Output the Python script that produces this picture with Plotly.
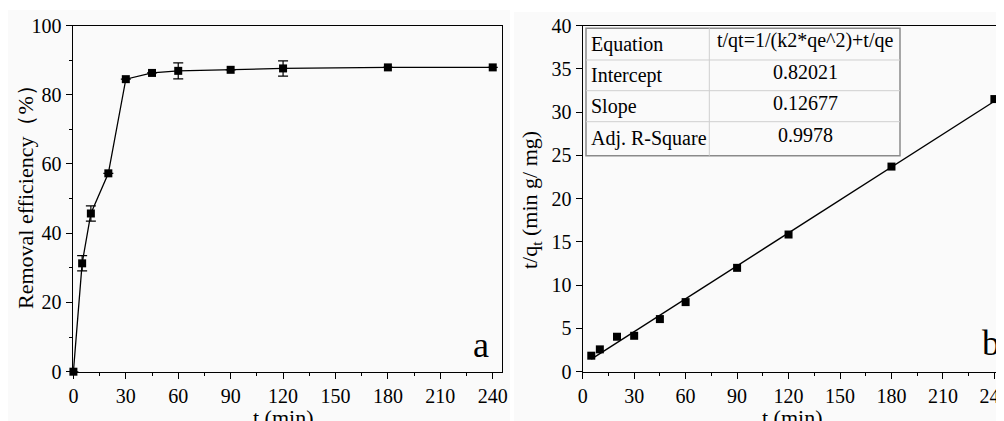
import plotly.graph_objects as go

# ---------------- data ----------------
t_removal = [0, 5, 10, 20, 30, 45, 60, 90, 120, 180, 240]
removal_eff = [0, 31.3, 45.7, 57.3, 84.5, 86.3, 86.9, 87.2, 87.6, 87.9, 87.9]
removal_err = [0, 2.2, 2.2, 0, 0, 0, 2.3, 0, 2.2, 0, 0]

t_kin = [5, 10, 20, 30, 45, 60, 90, 120, 180, 240]
t_over_qt = [1.85, 2.58, 4.04, 4.15, 6.08, 8.04, 12.0, 15.85, 23.7, 31.5]

fit_intercept = 0.82021
fit_slope = 0.12677
fit_t = [5, 240]
fit_y = [fit_intercept + fit_slope * t for t in fit_t]

table_labels = ["Equation", "Intercept", "Slope", "Adj. R-Square"]
table_values = ["t/qt=1/(k2*qe^2)+t/qe", "0.82021", "0.12677", "0.9978"]

x_ticks = [0, 30, 60, 90, 120, 150, 180, 210, 240]

# ---------------- figure ----------------
# The page body has an 8px margin, so the figure is offset by 8px;
# window is 1004x421 -> figure 996x413 fills the remaining area.
OFF = 8
W, H = 1004 - OFF, 421 - OFF
FONT = "Liberation Serif"


def px(x):
    return (x - OFF) / W


def py(y):
    return (H - (y - OFF)) / H


fig = go.Figure()

fig.add_trace(go.Scatter(
    x=t_removal, y=removal_eff,
    mode="lines+markers",
    line=dict(color="black", width=1.3),
    marker=dict(symbol="square", size=8, color="black"),
    error_y=dict(type="data", array=removal_err, visible=True,
                 color="black", thickness=1.2, width=5),
    cliponaxis=False, showlegend=False,
    xaxis="x", yaxis="y",
))

fig.add_trace(go.Scatter(
    x=fit_t, y=fit_y, mode="lines",
    line=dict(color="black", width=1.4),
    showlegend=False, xaxis="x2", yaxis="y2",
))

fig.add_trace(go.Scatter(
    x=t_kin, y=t_over_qt, mode="markers",
    marker=dict(symbol="square", size=8, color="black"),
    cliponaxis=False, showlegend=False, xaxis="x2", yaxis="y2",
))

ydom = [py(371.7), py(25.5)]

common_axis = dict(
    showgrid=False, zeroline=False, showline=True, linecolor="black",
    linewidth=1.2, ticks="outside", ticklen=6, tickwidth=1.2,
    tickcolor="black", tickfont=dict(family=FONT, size=20, color="black"),
    ticklabeloverflow="allow", automargin=False,
)

fig.update_layout(
    width=W, height=H,
    margin=dict(l=0, r=0, t=0, b=0, pad=0, autoexpand=False),
    paper_bgcolor="white",
    plot_bgcolor="rgba(0,0,0,0)",
    font=dict(family=FONT, color="black"),
    xaxis=dict(domain=[px(72.7), px(502)], range=[-0.4, 245.3],
               tickvals=x_ticks, mirror=True,
               minor=dict(dtick=15, ticklen=3, tickwidth=1, tickcolor="black", ticks="outside"),
               anchor="y", **common_axis),
    yaxis=dict(domain=ydom, range=[0, 100], dtick=20, mirror=True,
               minor=dict(dtick=10, ticklen=3, tickwidth=1, tickcolor="black", ticks="outside"),
               anchor="x", **common_axis),
    xaxis2=dict(domain=[px(582.7), 1.0], range=[0, 245.6],
                tickvals=x_ticks, mirror=True,
                minor=dict(dtick=15, ticklen=3, tickwidth=1, tickcolor="black", ticks="outside"),
                anchor="y2", **common_axis),
    yaxis2=dict(domain=ydom, range=[0, 40], dtick=5, mirror=False,
                anchor="x2", **common_axis),
)

# panel backgrounds (image-like light grey frames)
shapes = [
    dict(type="rect", xref="paper", yref="paper", x0=px(8), x1=px(510), y0=0, y1=py(10),
         fillcolor="#fafafa", line=dict(width=0), layer="below"),
    dict(type="rect", xref="paper", yref="paper", x0=px(514), x1=1, y0=0, y1=py(12),
         fillcolor="#fafafa", line=dict(width=0), layer="below"),
]

# table in panel b
tl, tr, tt, tb = 586, 900, 28.3, 155.7
tcol = 709.3
row_lines = [60, 90.7, 121.7]
shapes.append(dict(type="rect", xref="paper", yref="paper", x0=px(tl), x1=px(tr),
                   y0=py(tb), y1=py(tt), fillcolor="rgba(0,0,0,0)",
                   line=dict(color="#8a8a8a", width=1.5)))
shapes.append(dict(type="line", xref="paper", yref="paper", x0=px(tcol), x1=px(tcol),
                   y0=py(tb), y1=py(tt), line=dict(color="#cfcfcf", width=1)))
for ry in row_lines:
    shapes.append(dict(type="line", xref="paper", yref="paper", x0=px(tl), x1=px(tr),
                       y0=py(ry), y1=py(ry), line=dict(color="#cfcfcf", width=1)))
fig.update_layout(shapes=shapes)

annotations = []
row_bounds = [tt] + row_lines + [tb]
for i, (lab, val) in enumerate(zip(table_labels, table_values)):
    yc = (row_bounds[i] + row_bounds[i + 1]) / 2
    annotations.append(dict(text=lab, xref="paper", yref="paper", x=px(589), y=py(yc),
                            xanchor="left", yanchor="middle", showarrow=False,
                            font=dict(family=FONT, size=20, color="black")))
    annotations.append(dict(text=val, xref="paper", yref="paper", x=px(805), y=py(yc - 3.5),
                            xanchor="center", yanchor="middle", showarrow=False,
                            font=dict(family=FONT, size=20, color="black")))

# axis titles
annotations += [
    dict(text="Removal efficiency（%）", xref="paper", yref="paper", x=px(25), y=py(192),
         textangle=-90, showarrow=False, xanchor="center", yanchor="middle",
         font=dict(family=FONT, size=22, color="black")),
    dict(text="t (min)", xref="paper", yref="paper", x=px(283), y=py(417),
         showarrow=False, xanchor="center", yanchor="middle",
         font=dict(family=FONT, size=22, color="black")),
    dict(text="t/q<sub>t</sub> (min g/ mg)", xref="paper", yref="paper", x=px(531), y=py(200),
         textangle=-90, showarrow=False, xanchor="center", yanchor="middle",
         font=dict(family=FONT, size=22, color="black")),
    dict(text="t (min)", xref="paper", yref="paper", x=px(792), y=py(417),
         showarrow=False, xanchor="center", yanchor="middle",
         font=dict(family=FONT, size=22, color="black")),
    dict(text="a", xref="paper", yref="paper", x=px(481), y=py(345),
         showarrow=False, xanchor="center", yanchor="middle",
         font=dict(family=FONT, size=36, color="black")),
    dict(text="b", xref="paper", yref="paper", x=px(1002), y=py(343),
         showarrow=False, xanchor="right", yanchor="middle",
         font=dict(family=FONT, size=36, color="black")),
]
fig.update_layout(annotations=annotations)

fig.write_html("out.html")
